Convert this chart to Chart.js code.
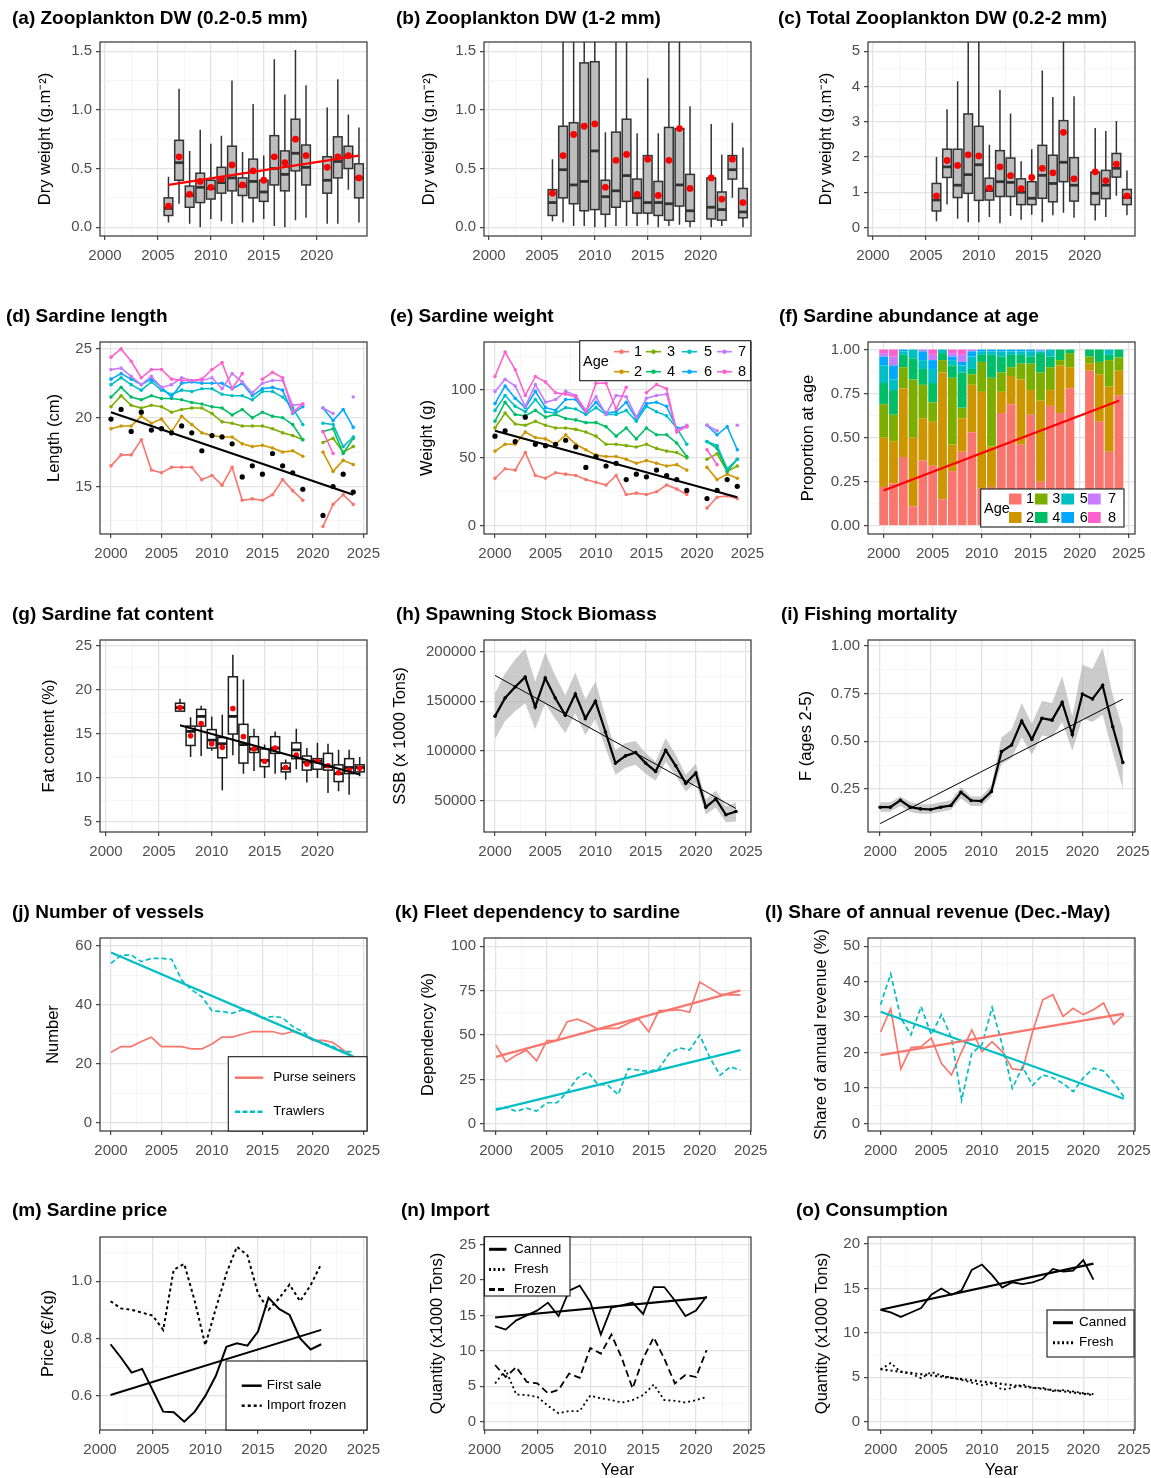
<!DOCTYPE html>
<html>
<head>
<meta charset="utf-8">
<script src="https://cdn.jsdelivr.net/npm/chart.js@4.4.1/dist/chart.umd.min.js"></script>
<style>
  body { margin: 0; background: #fff; }
  #fig { position: relative; width: 1151px; height: 1478px; overflow: hidden; background: #fff; }
  .pn { position: absolute; }
</style>
</head>
<body>
<div id="fig"></div>
<script>
// ---- years / categories ----
const yrsBox = [2006, 2007, 2008, 2009, 2010, 2011, 2012, 2013, 2014, 2015, 2016, 2017, 2018, 2019, 2021, 2022, 2023, 2024];
const yrsFat = [2007, 2008, 2009, 2010, 2011, 2012, 2013, 2014, 2015, 2016, 2017, 2018, 2019, 2020, 2021, 2022, 2023, 2024];
const yrsAll = [2000, 2001, 2002, 2003, 2004, 2005, 2006, 2007, 2008, 2009, 2010, 2011, 2012, 2013, 2014, 2015, 2016, 2017, 2018, 2019, 2020, 2021, 2022, 2023, 2024];
const yrsAbund = [2000, 2001, 2002, 2003, 2004, 2005, 2006, 2007, 2008, 2009, 2010, 2011, 2012, 2013, 2014, 2015, 2016, 2017, 2018, 2019, 2021, 2022, 2023, 2024];
const yrsTrade = [2001, 2002, 2003, 2004, 2005, 2006, 2007, 2008, 2009, 2010, 2011, 2012, 2013, 2014, 2015, 2016, 2017, 2018, 2019, 2020, 2021];
const yrsCons = [2000, 2001, 2002, 2003, 2004, 2005, 2006, 2007, 2008, 2009, 2010, 2011, 2012, 2013, 2014, 2015, 2016, 2017, 2018, 2019, 2020, 2021];
const ages = ['1', '2', '3', '4', '5', '6', '7', '8'];

// ---- (a)(b)(c) zooplankton boxes: [min, q1, median, q3, max] ----
const zooSmall = [[0.04,0.10,0.16,0.25,0.43],[0.20,0.40,0.55,0.74,1.18],[0.03,0.17,0.27,0.35,0.65],[0.00,0.21,0.34,0.46,0.83],
  [0.07,0.24,0.33,0.40,0.71],[0.05,0.29,0.38,0.51,0.78],[0.03,0.31,0.42,0.69,1.25],[0.04,0.27,0.35,0.42,0.64],
  [0.04,0.25,0.39,0.58,1.05],[0.07,0.22,0.30,0.40,0.61],[0.01,0.36,0.50,0.78,1.43],[0.00,0.31,0.45,0.65,1.13],
  [0.06,0.48,0.63,0.92,1.51],[0.08,0.36,0.51,0.70,1.21],[0.03,0.29,0.40,0.60,1.02],[0.03,0.42,0.56,0.77,1.26],
  [0.32,0.50,0.60,0.69,0.96],[0.04,0.25,0.42,0.54,0.85]];
const zooSmallMean = [0.18,0.60,0.28,0.39,0.34,0.41,0.53,0.36,0.48,0.40,0.60,0.55,0.75,0.61,0.51,0.60,0.61,0.42];
const zooSmallTrend = [0.36, 0.61];

const zooLarge = [[0.05,0.10,0.21,0.32,0.58],[0.04,0.25,0.49,0.86,2.2],[0.01,0.20,0.36,0.89,2.2],[0.01,0.14,0.39,1.40,2.6],
  [0.00,0.15,0.65,1.41,2.6],[0.00,0.11,0.26,0.40,0.81],[0.01,0.17,0.31,0.81,1.9],[0.01,0.22,0.44,0.92,2.1],
  [0.01,0.12,0.25,0.41,0.80],[0.02,0.12,0.21,0.61,1.27],[0.00,0.10,0.21,0.39,0.80],[0.01,0.06,0.20,0.85,2.0],
  [0.02,0.18,0.36,0.84,1.9],[0.00,0.05,0.14,0.45,1.03],[0.00,0.07,0.17,0.42,0.88],[0.01,0.06,0.15,0.30,0.62],
  [0.25,0.41,0.49,0.61,0.89],[0.00,0.08,0.13,0.33,0.68]];
const zooLargeMean = [0.29,0.61,0.79,0.86,0.88,0.34,0.57,0.62,0.28,0.58,0.27,0.57,0.84,0.33,0.42,0.24,0.58,0.21];

const zooTotal = [[0.18,0.47,0.78,1.25,2.00],[0.65,1.42,1.72,2.22,3.35],[0.25,0.85,1.20,2.22,4.15],[0.15,0.97,1.50,3.22,6.5],
  [0.15,0.77,1.78,2.87,6.5],[0.30,0.78,1.05,1.40,2.35],[0.12,0.88,1.30,2.18,3.90],[0.33,0.88,1.28,1.97,3.23],
  [0.22,0.65,1.00,1.38,1.88],[0.36,0.65,0.83,1.30,2.22],[0.15,0.83,1.48,2.33,4.45],[0.35,0.73,1.25,2.05,3.70],
  [0.42,1.30,1.85,3.03,6.5],[0.28,0.75,1.20,1.98,3.72],[0.20,0.65,0.97,1.57,2.82],[0.30,0.82,1.20,1.62,2.74],
  [0.90,1.43,1.68,2.10,3.02],[0.35,0.65,0.85,1.08,1.62]];
const zooTotalMean = [0.90,1.90,1.76,2.06,2.03,1.12,1.72,1.47,1.10,1.42,1.68,1.55,2.70,1.38,1.58,1.33,1.80,0.90];

// ---- (d) length at age (cm), 2020 missing ----
const lenAge1 = [16.5,17.3,17.3,18.4,16.2,16.0,16.4,16.4,16.4,15.5,15.8,15.1,16.4,14.0,14.1,14.0,14.4,15.5,14.7,14.0,null,12.1,13.7,14.4,13.7];
const lenAge2 = [19.2,19.4,19.4,20.1,19.6,19.9,19.0,20.1,19.5,18.9,18.7,18.6,18.6,18.1,17.9,18.0,17.8,17.5,17.6,17.2,null,17.5,16.1,16.9,16.6];
const lenAge3 = [20.8,21.6,20.9,20.7,20.9,20.8,20.4,20.6,20.7,20.7,20.3,19.7,19.6,19.4,19.4,19.4,19.2,18.9,18.7,18.4,null,18.2,18.5,17.5,17.9];
const lenAge4 = [21.5,22.2,21.5,21.3,21.6,21.4,21.4,21.3,21.1,21.0,20.8,20.7,20.2,20.6,20.0,20.4,20.1,20.0,19.5,18.4,null,19.0,19.2,17.4,18.5];
const lenAge5 = [22.4,22.9,22.4,22.0,22.6,22.0,21.7,22.0,21.9,22.1,22.1,21.7,21.6,21.6,21.3,21.9,21.9,21.5,20.7,19.5,null,19.6,19.5,17.9,18.6];
const lenAge6 = [22.8,23.2,22.8,22.4,22.8,22.2,21.5,22.5,22.6,22.5,22.5,22.5,22.1,22.5,21.6,22.1,22.2,22.0,20.3,20.8,null,20.7,19.8,20.6,19.3];
const lenAge7 = [23.5,23.6,23.0,22.4,23.0,22.2,22.4,22.9,22.7,22.7,22.9,22.1,23.2,22.6,21.8,22.5,22.7,22.7,20.9,21.0,null,20.7,20.3,null,21.5];
const lenAge8 = [24.4,25.0,24.1,22.9,23.5,23.5,22.8,22.7,22.7,22.8,23.5,24.0,22.1,23.2,null,22.8,23.3,22.9,20.4,21.0,null,19.0,17.4,null,null];
const lenMean = [19.9,20.6,19.0,20.4,19.1,19.2,18.9,19.4,18.9,17.6,18.7,18.6,18.1,15.7,16.5,15.9,17.4,16.5,16.0,14.8,null,12.9,15.0,15.9,14.6];
const lenTrend = [20.4, 14.4];

// ---- (e) weight at age (g) ----
const wAge1 = [35,42,41,54,37,35,39,38,37,34,32,30,37,23,24,23,25,30,27,23,null,13,21,22,20];
const wAge2 = [55,60,60,69,65,64,60,67,60,56,52,51,51,49,46,48,46,44,45,41,null,43,34,38,35];
const wAge3 = [72,83,75,74,77,74,72,72,71,69,66,60,60,59,58,60,57,55,54,50,null,49,53,40,44];
const wAge4 = [77,91,82,81,85,80,82,79,78,76,76,73,66,72,64,72,67,67,61,51,null,62,57,40,49];
const wAge5 = [85,96,88,84,93,84,83,87,86,82,87,82,82,85,77,88,84,81,72,60,null,62,59,42,49];
const wAge6 = [90,103,94,87,99,87,85,93,93,83,91,83,84,91,79,90,91,88,72,73,null,74,67,73,56];
const wAge7 = [99,108,103,88,104,91,93,99,96,85,95,82,96,95,80,94,96,97,70,74,null,74,70,null,74];
const wAge8 = [110,128,115,96,110,106,98,97,95,84,105,105,86,102,null,98,104,101,69,73,null,56,45,null,null];
const wMean = [66,70,62,80,60,59,60,63,58,43,51,44,46,34,38,36,41,37,34,26,null,20,26,34,29];
const wTrend = [70, 21];

// ---- (f) proportion at age ----
const prop1 = [0.22,0.24,0.39,0.11,0.37,0.34,0.15,0.31,0.42,0.53,0.21,0.22,0.64,0.69,0.46,0.63,0.25,0.68,0.64,0.78,0.88,0.59,0.42,0.74];
const prop2 = [0.28,0.24,0.39,0.39,0.24,0.25,0.72,0.15,0.19,0.27,0.55,0.23,0.12,0.16,0.37,0.14,0.46,0.09,0.27,0.12,0.04,0.27,0.37,0.14];
const prop3 = [0.19,0.15,0.12,0.33,0.19,0.11,0.07,0.38,0.06,0.06,0.17,0.39,0.11,0.05,0.09,0.15,0.16,0.13,0.03,0.08,0.04,0.07,0.15,0.075];
const prop4 = [0.12,0.14,0.07,0.12,0.09,0.11,0.04,0.07,0.20,0.03,0.04,0.13,0.09,0.07,0.05,0.04,0.11,0.06,0.06,0.02,0.04,0.07,0.03,0.045];
const prop5 = [0.10,0.06,0.02,0.05,0.05,0.08,0.02,0.03,0.04,0.07,0.02,0.02,0.03,0.02,0.02,0.03,0.01,0.04,0,0,0,0,0.03,0];
const prop6 = [0.05,0.08,0.01,0,0.05,0.05,0,0.02,0.02,0.03,0.01,0.01,0.01,0.01,0.01,0.01,0.005,0,0,0,0,0,0,0];
const prop7 = [0.02,0.05,0,0,0.01,0.03,0,0.02,0.04,0.01,0,0,0,0,0,0,0.005,0,0,0,0,0,0,0];
const prop8 = [0.02,0.04,0,0,0,0.03,0,0.02,0.03,0,0,0,0,0,0,0,0,0,0,0,0,0,0,0];
const propTrend = [0.20, 0.71];

// ---- (g) fat content boxes ----
const fatBox = [[17.5,17.6,18.0,18.5,19.0],[12.4,13.7,15.3,15.9,16.9],[12.5,15.9,17.0,17.8,18.2],[13.1,13.4,14.3,15.5,17.0],
  [8.6,12.3,13.9,14.6,17.2],[12.6,15.0,17.0,21.5,24.0],[10.5,11.7,13.8,16.1,21.2],[10.8,12.9,13.3,14.7,15.6],
  [10.0,11.3,12.0,13.3,13.8],[10.5,12.8,13.4,14.7,15.3],[9.8,10.7,11.1,11.7,12.1],[11.0,12.2,13.2,14.0,15.6],
  [9.5,10.9,11.8,12.5,13.4],[10.0,11.0,11.9,12.2,14.0],[8.3,10.9,11.3,12.8,13.9],[8.5,9.6,10.5,11.5,13.2],
  [8.1,10.5,11.2,12.2,13.2],[10.2,10.7,11.2,11.5,12.4]];
const fatMean = [18.0,14.8,16.2,13.9,13.5,17.9,14.7,13.3,11.9,13.4,11.2,12.6,11.6,11.9,11.4,10.6,10.9,11.1];
const fatTrend = [16.0, 10.4];

// ---- (h) SSB, (i) F ----
const ssb = [135000,153300,164300,174300,144300,173300,153300,136000,157300,132700,150000,119000,87700,95000,98300,87700,79300,100700,85000,67300,77700,43300,51700,35700,39000];
const ssbHi = [158000,178000,192000,203000,170000,199000,176000,156000,179000,152000,170000,135000,101000,108000,110000,98000,89000,113000,96000,76000,87000,51000,60000,44000,48000];
const ssbLo = [112000,130000,140000,148000,122000,148000,132000,118000,138000,116000,132000,103000,76000,83000,86000,77000,70000,89000,75000,59000,68000,36000,43000,28000,29000];
const ssbTrend = [176000, 42000];
const fMort = [0.154,0.154,0.19,0.154,0.145,0.142,0.154,0.163,0.232,0.189,0.186,0.236,0.445,0.48,0.605,0.51,0.62,0.61,0.703,0.535,0.747,0.721,0.792,0.575,0.388];
const fHi = [0.18,0.18,0.21,0.18,0.17,0.17,0.18,0.19,0.26,0.21,0.21,0.27,0.52,0.56,0.70,0.59,0.71,0.70,0.84,0.63,0.90,0.88,0.99,0.74,0.56];
const fLo = [0.13,0.13,0.16,0.13,0.12,0.12,0.13,0.14,0.20,0.16,0.16,0.21,0.38,0.41,0.52,0.43,0.53,0.52,0.60,0.45,0.62,0.60,0.64,0.44,0.25];
const fTrend = [0.068, 0.72];

// ---- (j)(k)(l) fleet ----
const fleetLabels = ['Purse seiners', 'Trawlers'];
const vesPurse = [24.0,25.9,25.9,27.6,29.1,25.9,25.9,25.9,25.1,25.1,26.8,29.1,29.1,30.1,31.0,31.0,31.0,30.1,31.0,29.9,28.0,28.0,27.3,24.8,22.5];
const vesTrawl = [54.1,56.9,56.9,54.7,55.8,55.8,55.5,48.5,45.1,42.8,38.0,37.8,37.2,38.3,37.8,35.6,36.1,35.7,32.7,31.0,28.2,27.1,25.9,24.2,24.2];
const vesTrawlTrend = [57.8, 22.5];
const depPurse = [44.3,34.9,38.7,41.5,35.5,46.8,46.8,57.5,58.9,56.6,53.2,53.8,53.8,56.6,59.0,51.9,63.8,63.8,64.2,62.8,79.8,76.4,73.0,72.6,72.6];
const depTrawl = [8.5,9.4,7.0,8.9,7.2,11.9,11.9,17.9,25.8,29.2,22.3,21.7,16.4,31.1,30.2,29.6,31.1,39.6,42.8,41.5,50.0,37.2,27.4,32.1,30.2];
const depPurseTrend = [37.7, 75.1];
const depTrawlTrend = [7.9, 41.5];
const revPurse = [25.8,32.4,15.4,21.4,21.7,24.1,17.0,13.7,20.3,26.4,20.3,23.1,20.3,15.4,15.1,25.9,34.9,36.3,30.2,32.5,30.7,32.1,34.0,28.0,30.7];
const revTrawl = [33.5,42.2,29.7,25.0,33.0,25.0,30.7,24.1,6.6,19.8,22.2,32.7,22.2,9.9,16.0,10.8,13.7,12.9,11.3,9.0,12.9,15.6,14.8,11.6,7.5];
const revPurseTrend = [19.3, 31.0];
const revTrawlTrend = [31.5, 7.0];

// ---- (m)(n)(o) market ----
const priceLabels = ['First sale', 'Import frozen'];
const priceFirst = [0.78,0.733,0.681,0.694,0.62,0.545,0.543,0.51,0.545,0.60,0.67,0.771,0.783,0.775,0.824,0.942,0.903,0.882,0.80,0.762,0.78];
const priceFrozen = [0.93,0.905,0.90,0.89,0.88,0.83,1.04,1.06,0.93,0.777,0.905,1.027,1.12,1.09,0.957,0.90,0.94,0.988,0.93,0.986,1.06];
const priceTrend = [0.603, 0.83];
const importLabels = ['Canned', 'Fresh', 'Frozen'];
const impCanned = [13.5,13.0,14.3,15.0,15.7,16.8,14.9,18.5,19.2,16.9,12.3,16.1,16.4,16.8,15.2,19.0,19.0,17.1,14.9,15.7,17.7];
const impFresh = [5.4,7.3,3.85,3.75,3.5,2.25,1.2,1.5,1.5,3.7,3.3,3.05,2.7,3.05,3.75,5.25,3.05,2.95,2.7,3.05,3.5];
const impFrozen = [8.0,6.3,7.7,5.6,5.4,4.0,4.5,6.8,6.2,10.4,9.6,12.3,8.9,4.7,8.9,11.9,8.9,5.4,6.6,6.3,10.1];
const impCannedTrend = [14.7, 17.5];
const consLabels = ['Canned', 'Fresh'];
const conCanned = [12.6,12.3,11.8,12.3,12.8,14.3,15.0,14.3,14.8,17.1,17.7,16.5,15.1,15.7,15.5,15.7,16.1,17.2,16.9,17.0,18.2,16.0];
const conFresh = [5.9,6.6,5.6,5.4,4.9,5.6,5.2,4.95,4.7,4.4,4.1,4.3,3.6,3.8,4.2,3.8,3.8,3.45,3.55,3.4,3.2,3.1];
const conCannedTrend = [12.6, 17.8];
const conFreshTrend = [5.9, 3.0];

// ---- styling ----
const FONT = "'Liberation Sans', Arial, Helvetica, sans-serif";
const hue8 = ['#F8766D', '#CD9600', '#7CAE00', '#00BE67', '#00BFC4', '#00A9FF', '#C77CFF', '#FF61CC'];
const RED = '#F8766D', CYAN = '#00BFC4';
const OX = 6;        // canvas starts this far left of its column
const EXTRA_R = 10;  // room on the right for the last tick label
const COL_X = [0, 384, 768];
const ROW_Y = [0, 298, 596, 894, 1192];
const PLOT_T = [42, 44, 44, 44, 45];
const PLOT_B = [236, 236, 236, 237, 238];
const PLOT_L = 100, PLOT_R = 367;

Chart.defaults.font.family = FONT;
Chart.defaults.color = '#4d4d4d';

const fig = document.getElementById('fig');

function pts(xs, ys) { return xs.map((x, i) => ({ x: x, y: ys[i] })); }
function ends(xs) { return [xs[0], xs[xs.length - 1]]; }

function lineDs(xs, ys, color, extra) {
  return Object.assign({ type: 'line', data: pts(xs, ys), borderColor: color, backgroundColor: color,
    borderWidth: 1.7, pointRadius: 0, tension: 0, spanGaps: false, fill: false }, extra || {});
}
function dotDs(xs, ys, color, r) {
  return { type: 'line', data: pts(xs, ys), showLine: false, pointRadius: r, pointBackgroundColor: color,
    pointBorderWidth: 0, borderColor: color };
}

// major ticks every `step`, minor grid half way between
function halfSteps(min, max, step) {
  const h = step / 2, out = [];
  for (let k = Math.ceil(min / h - 1e-9); k * h <= max + 1e-9; k++) {
    out.push(+(k * h).toFixed(6));
  }
  return out;
}

function linAxis(side, range, step, fmt, size, title, titlePad) {
  const major = v => Math.abs(v / step - Math.round(v / step)) < 1e-6;
  const ax = {
    type: 'linear', position: side, min: range[0], max: range[1], bounds: 'data', offset: false,
    afterBuildTicks: a => { a.ticks = halfSteps(range[0], range[1], step).map(v => ({ value: v })); },
    afterFit: a => { if (side === 'left') a.width = size; else a.height = size; },
    grid: {
      offset: false,
      color: c => (c.tick && major(c.tick.value)) ? '#e3e3e3' : '#f2f2f2',
      lineWidth: c => (c.tick && major(c.tick.value)) ? 1.3 : 0.8,
      tickColor: c => (c.tick && major(c.tick.value)) ? '#333333' : 'rgba(0,0,0,0)',
      tickLength: 4, tickWidth: 1.1
    },
    border: { display: false },
    ticks: { autoSkip: false, maxRotation: 0, minRotation: 0, padding: side === 'left' ? 4 : 7, color: '#4d4d4d',
      font: { size: 15 }, callback: v => major(v) ? fmt(v) : '' }
  };
  if (title) {
    ax.title = { display: true, text: title, color: '#000', font: { size: 16.5, lineHeight: 1.2 },
      padding: side === 'left' ? { top: titlePad, bottom: 0 } : { top: 0, bottom: titlePad } };
  }
  return ax;
}

const framePlugin = {
  id: 'frame',
  afterDatasetsDraw(chart) {
    const { ctx, chartArea: a } = chart;
    ctx.save();
    ctx.strokeStyle = '#333';
    ctx.lineWidth = 1.2;
    ctx.strokeRect(a.left, a.top, a.right - a.left, a.bottom - a.top);
    ctx.restore();
  }
};

function boxes(years, stats, fill, stroke, width) {
  return {
    id: 'boxes',
    beforeDatasetsDraw(chart) {
      const { ctx, chartArea: a, scales: { x, y } } = chart;
      ctx.save();
      ctx.beginPath();
      ctx.rect(a.left, a.top, a.right - a.left, a.bottom - a.top);
      ctx.clip();
      ctx.strokeStyle = stroke;
      stats.forEach((s, i) => {
        const yr = years[i];
        const xc = x.getPixelForValue(yr);
        const xl = x.getPixelForValue(yr - width / 2), xr = x.getPixelForValue(yr + width / 2);
        const [lo, q1, md, q3, hi] = s.map(v => y.getPixelForValue(v));
        ctx.lineWidth = 1.5;
        ctx.beginPath();
        ctx.moveTo(xc, lo); ctx.lineTo(xc, q1);
        ctx.moveTo(xc, q3); ctx.lineTo(xc, hi);
        ctx.stroke();
        ctx.fillStyle = fill;
        ctx.fillRect(xl, q3, xr - xl, q1 - q3);
        ctx.strokeRect(xl, q3, xr - xl, q1 - q3);
        ctx.lineWidth = 2.8;
        ctx.beginPath(); ctx.moveTo(xl, md); ctx.lineTo(xr, md); ctx.stroke();
      });
      ctx.restore();
    }
  };
}

function legendBox(spec) {
  return {
    id: 'legendBox',
    afterDraw(chart) {
      const ctx = chart.ctx;
      const [x0, y0, x1, y1] = spec.box;
      ctx.save();
      ctx.fillStyle = '#fff';
      ctx.fillRect(x0 + OX, y0, x1 - x0, y1 - y0);
      ctx.strokeStyle = '#1a1a1a';
      ctx.lineWidth = 1.1;
      ctx.strokeRect(x0 + OX, y0, x1 - x0, y1 - y0);
      ctx.font = spec.size + 'px ' + FONT;
      ctx.textBaseline = 'middle';
      ctx.textAlign = 'left';
      if (spec.title) {
        ctx.fillStyle = '#000';
        ctx.fillText(spec.title.text, spec.title.x + OX, spec.title.y);
      }
      spec.items.forEach(it => {
        const kx0 = it.kx0 + OX, kx1 = it.kx1 + OX;
        if (it.kind === 'sq') {
          ctx.fillStyle = it.color;
          ctx.fillRect(kx0, it.y - it.h / 2, kx1 - kx0, it.h);
        } else {
          ctx.strokeStyle = it.color;
          ctx.lineWidth = it.width;
          ctx.setLineDash(it.dash || []);
          ctx.beginPath(); ctx.moveTo(kx0, it.y); ctx.lineTo(kx1, it.y); ctx.stroke();
          ctx.setLineDash([]);
          if (it.kind === 'pt') {
            ctx.fillStyle = it.color;
            ctx.beginPath(); ctx.arc((kx0 + kx1) / 2, it.y, 2.3, 0, Math.PI * 2); ctx.fill();
          }
        }
        ctx.fillStyle = '#000';
        ctx.fillText(it.label, it.lx + OX, it.y);
      });
      ctx.restore();
    }
  };
}

function panel(p) {
  const W = 384 + OX + EXTRA_R;
  const H = p.row === 4 ? 292 : 298;
  const wrap = document.createElement('div');
  wrap.className = 'pn';
  wrap.style.left = (COL_X[p.col] - OX) + 'px';
  wrap.style.top = ROW_Y[p.row] + 'px';
  const cv = document.createElement('canvas');
  cv.width = W; cv.height = H;
  cv.style.width = W + 'px'; cv.style.height = H + 'px';
  wrap.appendChild(cv);
  fig.appendChild(wrap);

  const tx = p.tx + OX;
  const top = PLOT_T[p.row], bottom = PLOT_B[p.row];
  const tPadTop = 19 - 11.4;
  const x = linAxis('bottom', p.xr, 5, v => String(Math.round(v)), H - bottom, p.xTitle, p.xTitle ? H - 278 - 9.9 : 0);
  const y = linAxis('left', p.yr, p.yStep, p.yFmt, PLOT_L + OX - tx, p.yTitle, p.yTitleX + OX - tx - 9.9);
  Object.assign(x, p.xExtra || {});
  Object.assign(y, p.yExtra || {});

  new Chart(cv, {
    type: p.type || 'line',
    data: { datasets: p.datasets },
    options: {
      responsive: false, animation: false, devicePixelRatio: 1, events: [],
      layout: { padding: { left: tx, right: W - (PLOT_R + OX), top: 0, bottom: 0 } },
      scales: { x: x, y: y },
      plugins: {
        legend: { display: false },
        tooltip: { enabled: false },
        title: { display: true, text: p.title, align: 'start', color: '#000',
          font: { size: 19, weight: 'bold', lineHeight: 1.2 },
          padding: { top: tPadTop, bottom: top - 22.8 - tPadTop } }
      }
    },
    plugins: [framePlugin].concat(p.plugins || [])
  });
}

const f1 = v => v.toFixed(1), f2 = v => v.toFixed(2), f0 = v => String(v);

// (a)
panel({ col: 0, row: 0, tx: 12, title: '(a) Zooplankton DW (0.2-0.5 mm)', xr: [1999.53, 2024.76], yr: [-0.075, 1.578],
  yStep: 0.5, yFmt: f1, yTitle: 'Dry weight (g.m⁻²)', yTitleX: 45,
  datasets: [lineDs(ends(yrsBox), zooSmallTrend, '#ff0000', { borderWidth: 2.2 }), dotDs(yrsBox, zooSmallMean, '#ff0000', 3.4)],
  plugins: [boxes(yrsBox, zooSmall, '#bdbdbd', '#333333', 0.82)] });
// (b)
panel({ col: 1, row: 0, tx: 12, title: '(b) Zooplankton DW (1-2 mm)', xr: [1999.53, 2024.76], yr: [-0.075, 1.578],
  yStep: 0.5, yFmt: f1, yTitle: 'Dry weight (g.m⁻²)', yTitleX: 45,
  datasets: [dotDs(yrsBox, zooLargeMean, '#ff0000', 3.4)],
  plugins: [boxes(yrsBox, zooLarge, '#bdbdbd', '#333333', 0.82)] });
// (c)
panel({ col: 2, row: 0, tx: 10, title: '(c) Total Zooplankton DW (0.2-2 mm)', xr: [1999.53, 2024.76], yr: [-0.24, 5.26],
  yStep: 1, yFmt: f0, yTitle: 'Dry weight (g.m⁻²)', yTitleX: 58,
  datasets: [dotDs(yrsBox, zooTotalMean, '#ff0000', 3.4)],
  plugins: [boxes(yrsBox, zooTotal, '#bdbdbd', '#333333', 0.82)] });

// (d)
const lenSeries = [lenAge1, lenAge2, lenAge3, lenAge4, lenAge5, lenAge6, lenAge7, lenAge8];
panel({ col: 0, row: 1, tx: 6, title: '(d) Sardine length', xr: [1998.91, 2025.36], yr: [11.55, 25.5],
  yStep: 5, yFmt: f0, yTitle: 'Length (cm)', yTitleX: 54,
  datasets: [lineDs(ends(yrsAll), lenTrend, '#000', { borderWidth: 2.2 }), dotDs(yrsAll, lenMean, '#000', 2.6)]
    .concat(lenSeries.map((s, k) => lineDs(yrsAll, s, hue8[k], { borderWidth: 1.6, pointRadius: 1.8, pointBorderWidth: 0 })).reverse()) });

// (e)
const wSeries = [wAge1, wAge2, wAge3, wAge4, wAge5, wAge6, wAge7, wAge8];
const legendE = ages.map((a, k) => {
  const c = Math.floor(k / 2), r = k % 2;
  return { label: a, kind: 'pt', color: hue8[k], width: 1.6, kx0: [230, 262, 298, 333][c], kx1: [245, 277, 313, 348][c],
    lx: [250, 283, 320, 354][c], y: [53.7, 73.7][r] };
});
panel({ col: 1, row: 1, tx: 6, title: '(e) Sardine weight', xr: [1998.91, 2025.36], yr: [-6.1, 135.4],
  yStep: 50, yFmt: f0, yTitle: 'Weight (g)', yTitleX: 43,
  datasets: [lineDs(ends(yrsAll), wTrend, '#000', { borderWidth: 2.2 }), dotDs(yrsAll, wMean, '#000', 2.6)]
    .concat(wSeries.map((s, k) => lineDs(yrsAll, s, hue8[k], { borderWidth: 1.6, pointRadius: 1.8, pointBorderWidth: 0 })).reverse()),
  plugins: [legendBox({ box: [195.7, 42.7, 366.7, 82.7], size: 14.5, title: { text: 'Age', x: 199, y: 63.7 }, items: legendE })] });

// (f)
const propSeries = [prop1, prop2, prop3, prop4, prop5, prop6, prop7, prop8];
const legendF = ages.map((a, k) => {
  const c = Math.floor(k / 2), r = k % 2;
  return { label: a, kind: 'sq', color: hue8[k], h: 11, kx0: [241, 267, 293.3, 320][c], kx1: [253.5, 279.5, 306, 332.7][c],
    lx: [258, 284.3, 311.7, 340][c], y: [201, 219.5][r] };
});
panel({ col: 2, row: 1, tx: 11, title: '(f) Sardine abundance at age', type: 'bar', xr: [1998.4, 2025.64], yr: [-0.047, 1.043],
  yStep: 0.25, yFmt: f2, yTitle: 'Proportion at age', yTitleX: 40,
  xExtra: { stacked: true }, yExtra: { stacked: true },
  datasets: propSeries.map((s, k) => ({ type: 'bar', data: pts(yrsAbund, s), backgroundColor: hue8[k], borderWidth: 0,
      barPercentage: 0.9, categoryPercentage: 1 }))
    .concat([lineDs(ends(yrsAbund), propTrend, '#ff0000', { borderWidth: 2.2, order: -1 })]),
  plugins: [legendBox({ box: [212.7, 191, 356, 229], size: 14.5, title: { text: 'Age', x: 216, y: 210.5 }, items: legendF })] });

// (g)
panel({ col: 0, row: 2, tx: 12, title: '(g) Sardine fat content', xr: [1999.43, 2024.69], yr: [3.87, 25.68],
  yStep: 5, yFmt: f0, yTitle: 'Fat content (%)', yTitleX: 49,
  datasets: [lineDs(ends(yrsFat), fatTrend, '#000', { borderWidth: 2.2 }), dotDs(yrsFat, fatMean, '#ff0000', 2.8)],
  plugins: [boxes(yrsFat, fatBox, '#ffffff', '#1a1a1a', 0.85)] });

// (h)
panel({ col: 1, row: 2, tx: 12, title: '(h) Spawning Stock Biomass', xr: [1998.9, 2025.5], yr: [18300, 211700],
  yStep: 50000, yFmt: f0, yTitle: 'SSB (x 1000 Tons)', yTitleX: 16,
  datasets: [
    lineDs(ends(yrsAll), ssbTrend, '#000', { borderWidth: 1 }),
    lineDs(yrsAll, ssb, '#000', { borderWidth: 2.2, pointRadius: 1.8, pointBorderWidth: 0 }),
    lineDs(yrsAll, ssbHi, 'rgba(0,0,0,0)', { borderWidth: 0, fill: '+1', backgroundColor: 'rgba(160,160,160,0.55)' }),
    lineDs(yrsAll, ssbLo, 'rgba(0,0,0,0)', { borderWidth: 0 })
  ] });

// (i)
panel({ col: 2, row: 2, tx: 13, title: '(i) Fishing mortality', xr: [1998.8, 2025.2], yr: [0.024, 1.03],
  yStep: 0.25, yFmt: f2, yTitle: 'F (ages 2-5)', yTitleX: 38,
  datasets: [
    lineDs(ends(yrsAll), fTrend, '#000', { borderWidth: 1 }),
    lineDs(yrsAll, fMort, '#000', { borderWidth: 2.2, pointRadius: 1.8, pointBorderWidth: 0 }),
    lineDs(yrsAll, fHi, 'rgba(0,0,0,0)', { borderWidth: 0, fill: '+1', backgroundColor: 'rgba(160,160,160,0.55)' }),
    lineDs(yrsAll, fLo, 'rgba(0,0,0,0)', { borderWidth: 0 })
  ] });

// (j)
panel({ col: 0, row: 3, tx: 12, title: '(j) Number of vessels', xr: [1998.91, 2025.36], yr: [-2.7, 62.7],
  yStep: 20, yFmt: f0, yTitle: 'Number', yTitleX: 53,
  datasets: [
    lineDs(ends(yrsAll), vesTrawlTrend, CYAN, { borderWidth: 2.2 }),
    lineDs(yrsAll, vesTrawl, CYAN, { borderWidth: 1.7, borderDash: [5, 3] }),
    lineDs(yrsAll, vesPurse, RED, { borderWidth: 1.7 })
  ],
  plugins: [legendBox({ box: [228.3, 162.7, 367, 237], size: 13.5, items: [
    { label: fleetLabels[0], kind: 'line', color: RED, width: 2.5, kx0: 235, kx1: 263.3, lx: 273.3, y: 183.7 },
    { label: fleetLabels[1], kind: 'line', color: CYAN, width: 2.5, dash: [5, 2.5], kx0: 235, kx1: 263.3, lx: 273.3, y: 217.7 }
  ] })] });

// (k)
panel({ col: 1, row: 3, tx: 11, title: '(k) Fleet dependency to sardine', xr: [1998.84, 2025.03], yr: [-4, 104.6],
  yStep: 25, yFmt: f0, yTitle: 'Dependency (%)', yTitleX: 44,
  datasets: [
    lineDs(ends(yrsAll), depPurseTrend, RED, { borderWidth: 2.2 }),
    lineDs(ends(yrsAll), depTrawlTrend, CYAN, { borderWidth: 2.2 }),
    lineDs(yrsAll, depTrawl, CYAN, { borderWidth: 1.7, borderDash: [5, 3] }),
    lineDs(yrsAll, depPurse, RED, { borderWidth: 1.7 })
  ] });

// (l)
panel({ col: 2, row: 3, tx: -3, title: '(l) Share of annual revenue (Dec.-May)', xr: [1998.76, 2025.1], yr: [-2.1, 52.3],
  yStep: 10, yFmt: f0, yTitle: 'Share of annual revenue (%)', yTitleX: 53,
  datasets: [
    lineDs(ends(yrsAll), revPurseTrend, RED, { borderWidth: 2.2 }),
    lineDs(ends(yrsAll), revTrawlTrend, CYAN, { borderWidth: 2.2 }),
    lineDs(yrsAll, revTrawl, CYAN, { borderWidth: 1.7, borderDash: [5, 3] }),
    lineDs(yrsAll, revPurse, RED, { borderWidth: 1.7 })
  ] });

// (m)
panel({ col: 0, row: 4, tx: 12, title: '(m) Sardine price', xr: [2000, 2025.35], yr: [0.481, 1.154],
  yStep: 0.2, yFmt: f1, yTitle: 'Price (€/Kg)', yTitleX: 48,
  datasets: [
    lineDs(ends(yrsTrade), priceTrend, '#000', { borderWidth: 2 }),
    lineDs(yrsTrade, priceFirst, '#000', { borderWidth: 2 }),
    lineDs(yrsTrade, priceFrozen, '#000', { borderWidth: 2, borderDash: [3, 3] })
  ],
  plugins: [legendBox({ box: [226, 169, 367, 238], size: 13.5, items: [
    { label: priceLabels[0], kind: 'line', color: '#000', width: 2.5, kx0: 241.7, kx1: 261.7, lx: 266.7, y: 193.7 },
    { label: priceLabels[1], kind: 'line', color: '#000', width: 2.5, dash: [3, 3], kx0: 241.7, kx1: 261.7, lx: 266.7, y: 213.7 }
  ] })] });

// (n)
panel({ col: 1, row: 4, tx: 17, title: '(n) Import', xr: [1999.95, 2025.2], yr: [-1.17, 26.06],
  yStep: 5, yFmt: f0, yTitle: 'Quantity (x1000 Tons)', yTitleX: 53, xTitle: 'Year',
  datasets: [
    lineDs(ends(yrsTrade), impCannedTrend, '#000', { borderWidth: 2.2 }),
    lineDs(yrsTrade, impCanned, '#000', { borderWidth: 1.8 }),
    lineDs(yrsTrade, impFresh, '#000', { borderWidth: 1.8, borderDash: [2, 3] }),
    lineDs(yrsTrade, impFrozen, '#000', { borderWidth: 1.8, borderDash: [7, 4] })
  ],
  plugins: [legendBox({ box: [100.5, 44.7, 186, 104], size: 13.5, items: [
    { label: importLabels[0], kind: 'line', color: '#000', width: 3, kx0: 105, kx1: 122.5, lx: 130, y: 57.3 },
    { label: importLabels[1], kind: 'line', color: '#000', width: 3, dash: [2, 2.5], kx0: 105, kx1: 122.5, lx: 130, y: 77.5 },
    { label: importLabels[2], kind: 'line', color: '#000', width: 3, dash: [6, 3], kx0: 105, kx1: 122.5, lx: 130, y: 97.5 }
  ] })] });

// (o)
panel({ col: 2, row: 4, tx: 28, title: '(o) Consumption', xr: [1998.76, 2025.1], yr: [-0.94, 20.8],
  yStep: 5, yFmt: f0, yTitle: 'Quantity (x1000 Tons)', yTitleX: 54, xTitle: 'Year',
  datasets: [
    lineDs(ends(yrsCons), conCannedTrend, '#000', { borderWidth: 2.2 }),
    lineDs(ends(yrsCons), conFreshTrend, '#000', { borderWidth: 2.2, borderDash: [2, 3] }),
    lineDs(yrsCons, conCanned, '#000', { borderWidth: 1.8 }),
    lineDs(yrsCons, conFresh, '#000', { borderWidth: 1.8, borderDash: [2, 3] })
  ],
  plugins: [legendBox({ box: [279, 118, 366, 165], size: 13.5, items: [
    { label: consLabels[0], kind: 'line', color: '#000', width: 3, kx0: 285, kx1: 305, lx: 311, y: 130.7 },
    { label: consLabels[1], kind: 'line', color: '#000', width: 3, dash: [2, 2.5], kx0: 285, kx1: 305, lx: 311, y: 150.7 }
  ] })] });
</script>
</body>
</html>
